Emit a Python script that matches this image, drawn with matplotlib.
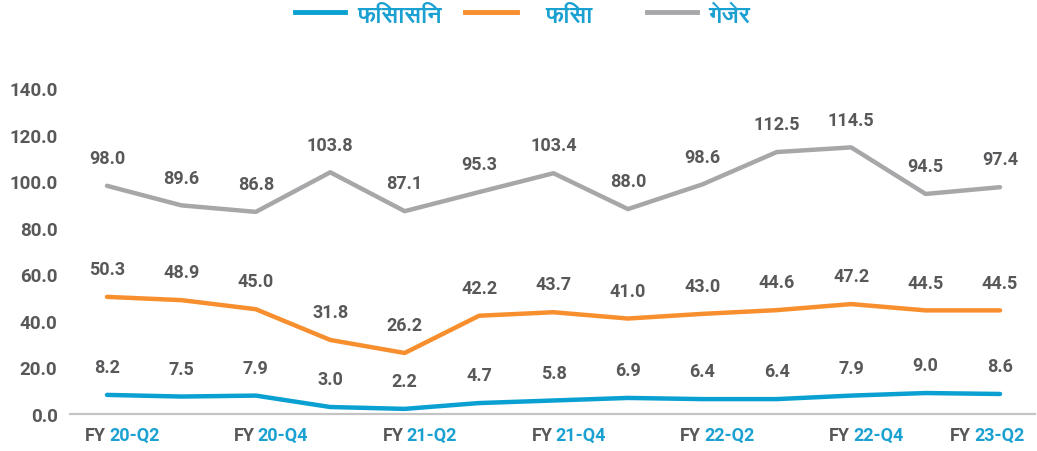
import matplotlib
matplotlib.use('Agg')
import matplotlib.pyplot as plt
from matplotlib import font_manager
from matplotlib.lines import Line2D
from matplotlib.transforms import blended_transform_factory, offset_copy

# --- DATOS ---
trimestres = ['FY 20-Q2', 'FY 20-Q3', 'FY 20-Q4', 'FY 21-Q1', 'FY 21-Q2', 'FY 21-Q3', 'FY 21-Q4',
              'FY 22-Q1', 'FY 22-Q2', 'FY 22-Q3', 'FY 22-Q4', 'FY 23-Q1', 'FY 23-Q2']
fisasin = [8.2, 7.5, 7.9, 3.0, 2.2, 4.7, 5.8, 6.9, 6.4, 6.4, 7.9, 9.0, 8.6]
fisa = [50.3, 48.9, 45.0, 31.8, 26.2, 42.2, 43.7, 41.0, 43.0, 44.6, 47.2, 44.5, 44.5]
gejer = [98.0, 89.6, 86.8, 103.8, 87.1, 95.3, 103.4, 88.0, 98.6, 112.5, 114.5, 94.5, 97.4]
nombres = ['फिसासिन', 'फिसा', 'गेजेर']
y_ticks = [0, 20, 40, 60, 80, 100, 120, 140]

AZUL = '#0AA0D2'
NARANJA = '#F78F2E'
GRIS = '#A7A7A9'
TEXTO = '#58585A'
AZUL_TXT = '#1BA1D1'

plt.rcParams['font.family'] = ['Roboto', 'DejaVu Sans']
plt.rcParams['font.weight'] = 'bold'

# fuente para el devanagari si existe alguna
deva = [f.name for f in font_manager.fontManager.ttflist
        if 'Devanagari' in f.name or f.name in ('Lohit Devanagari', 'FreeSans', 'Mangal', 'Gargi')]
fam_leyenda = deva[:1] + ['Roboto', 'DejaVu Sans']

W, H = 1037, 452
fig = plt.figure(figsize=(W / 100, H / 100), dpi=100)
ax = fig.add_axes([70 / W, 37 / H, 965 / W, 326 / H])

x = list(range(len(trimestres)))
series = [(fisasin, AZUL), (fisa, NARANJA), (gejer, GRIS)]
for valores, color in series:
    ax.plot(x, valores, color=color, linewidth=3.2, solid_capstyle='round', solid_joinstyle='round')
    for xi, v in zip(x, valores):
        ax.annotate(f"{v:.1f}", (xi, v), xytext=(0, 20), textcoords='offset points',
                    ha='center', va='center', fontsize=13, color=TEXTO, fontweight='bold')

ax.set_xlim(-0.497, 12.47)
ax.set_ylim(0, 140)
ax.set_yticks(y_ticks)
ax.set_yticklabels([f"{t:.1f}" for t in y_ticks], fontsize=13.5, color=TEXTO, fontweight='bold')
ax.tick_params(axis='y', length=0, pad=9)
ax.set_xticks([])
for lado in ['left', 'right', 'top']:
    ax.spines[lado].set_visible(False)
ax.spines['bottom'].set_color('#C4C4C4')
ax.spines['bottom'].set_linewidth(1.6)

# etiquetas del eje x en dos colores
trans = blended_transform_factory(ax.transData, ax.transAxes)
for i in range(0, len(trimestres), 2):
    pref, num = trimestres[i].split(' ')
    desp = -28 if i == len(trimestres) - 1 else 0
    ax.text(i, -0.065, pref, transform=offset_copy(trans, fig=fig, x=desp - 1, y=0, units='dots'),
            ha='right', va='center', fontsize=13, color=TEXTO, fontweight='bold', clip_on=False)
    ax.text(i, -0.065, num, transform=offset_copy(trans, fig=fig, x=desp + 2, y=0, units='dots'),
            ha='left', va='center', fontsize=13, color=AZUL_TXT, fontweight='bold', clip_on=False)

# leyenda manual arriba
tramos = [(295, 345, 357), (465, 517, 545), (647, 697, 708)]
for (x0, x1, xt), (_, color), nombre in zip(tramos, series, nombres):
    fig.add_artist(Line2D([x0 / W, x1 / W], [1 - 13 / H, 1 - 13 / H], transform=fig.transFigure,
                          color=color, linewidth=3.5))
    fig.text(xt / W, 1 - 17 / H, nombre, ha='left', va='center', fontsize=17,
             color=AZUL_TXT, fontweight='bold', family=fam_leyenda)

fig.savefig('out.png', dpi=100)
